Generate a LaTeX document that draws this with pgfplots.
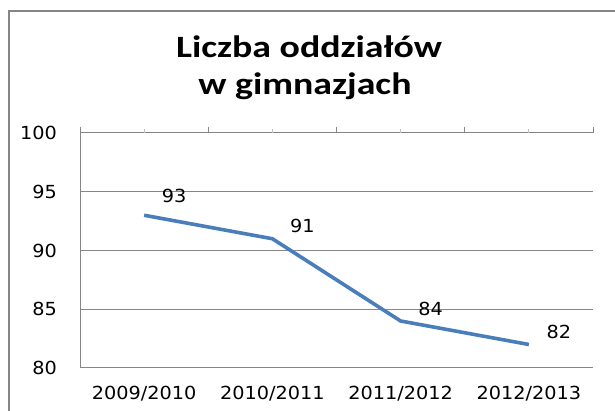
\documentclass[border=0pt]{standalone}
\usepackage{fontspec}
\setmainfont[FakeStretch=1.07]{DejaVu Sans}
\newfontfamily\titlefont[FakeStretch=1.22]{Carlito}
\usepackage{pgfplots}
\pgfplotsset{compat=1.18}
\definecolor{serie}{RGB}{74,126,187}
\definecolor{gridc}{RGB}{134,134,134}
\definecolor{lighttick}{RGB}{190,190,190}
\pgfplotstableread{
x y dy
0 93 19
1 91 13
2 84 12
3 82 13
}\datatable
\begin{document}
\begin{tikzpicture}[x=1pt,y=1pt]
\begin{scope}
\clip (0,0) rectangle (615,411);
\draw[gridc, line width=2.2pt] (8.7,-10) -- (8.7,400) -- (630,400);
\end{scope}
\node[font=\titlefont\bfseries\fontsize{31}{37}\selectfont, anchor=base, inner sep=0pt] at (309,353) {Liczba oddziałów};
\node[font=\titlefont\bfseries\fontsize{31}{37}\selectfont, anchor=base, inner sep=0pt] at (305,316) {w gimnazjach};
\begin{axis}[
  at={(80pt,43pt)}, anchor=south west,
  scale only axis, width=513pt, height=235pt,
  xmin=-0.5, xmax=3.5, ymin=80, ymax=100,
  ytick={80,85,90,95,100},
  xtick={0,1,2,3},
  xticklabels={2009/2010,2010/2011,2011/2012,2012/2013},
  /pgf/number format/assume math mode=true,
  tick style={draw=none},
  axis lines*=left,
  axis line style={-, gridc, line width=1pt},
  ymajorgrids,
  grid style={gridc, line width=1pt},
  ticklabel style={font=\fontsize{18}{20}\selectfont, text=black},
  yticklabel style={anchor=east, inner sep=0pt, xshift=-23pt},
  xticklabel style={anchor=base, inner sep=0pt, yshift=-32pt},
  clip=false,
]
\addplot[serie, line width=3.6pt, line join=round,
  nodes near coords,
  visualization depends on={\thisrow{dy} \as \dy},
  every node near coord/.style={font=\fontsize{18}{20}\selectfont, text=black, anchor=center, xshift=30pt, yshift=\dy pt},
] table[x=x, y=y, meta=y] {\datatable};
\draw[gridc, line width=1pt] (axis cs:-0.5,100) -- ([yshift=6pt]axis cs:-0.5,100);
\draw[gridc, line width=1pt] (axis cs:0.5,100) -- ([yshift=6pt]axis cs:0.5,100);
\draw[gridc, line width=1pt] (axis cs:1.5,100) -- ([yshift=6pt]axis cs:1.5,100);
\draw[gridc, line width=1pt] (axis cs:2.5,100) -- ([yshift=6pt]axis cs:2.5,100);
\draw[gridc, line width=1pt] (axis cs:3.5,100) -- ([yshift=6pt]axis cs:3.5,100);
\draw[lighttick, line width=1pt] (axis cs:0,100) -- ([yshift=4pt]axis cs:0,100);
\draw[lighttick, line width=1pt] (axis cs:1,100) -- ([yshift=4pt]axis cs:1,100);
\draw[lighttick, line width=1pt] (axis cs:2,100) -- ([yshift=4pt]axis cs:2,100);
\draw[lighttick, line width=1pt] (axis cs:3,100) -- ([yshift=4pt]axis cs:3,100);
\end{axis}
\pgfresetboundingbox
\useasboundingbox (0,0) rectangle (615,411);
\end{tikzpicture}
\end{document}
